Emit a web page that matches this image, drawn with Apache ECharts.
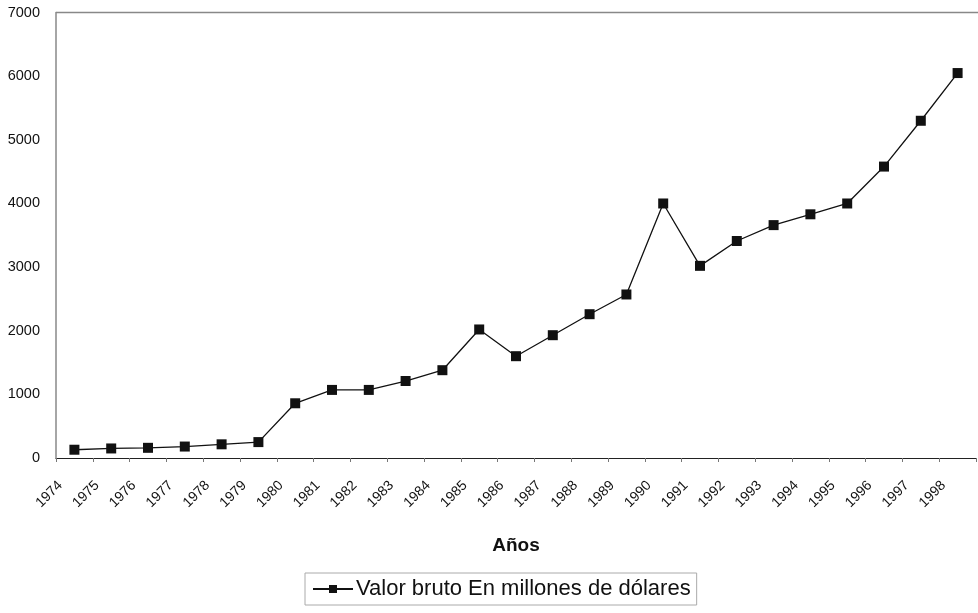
<!DOCTYPE html>
<html><head><meta charset="utf-8">
<script src="https://cdn.jsdelivr.net/npm/echarts@6/dist/echarts.min.js"></script>
<style>html,body{margin:0;padding:0;background:#fff}#c{width:978px;height:613px}</style>
</head><body><div id="c"></div>
<script>
const years = ['1974','1975','1976','1977','1978','1979','1980','1981','1982','1983','1984','1985','1986','1987','1988','1989','1990','1991','1992','1993','1994','1995','1996','1997','1998'];
const valorBruto = [130,150,160,180,215,250,860,1070,1070,1210,1380,2020,1600,1930,2260,2570,4000,3020,3410,3660,3830,4000,4580,5300,6050];
const yTicks = [0,1000,2000,3000,4000,5000,6000,7000];
const seriesName = 'Valor bruto En millones de dólares';
const xTitle = 'Años';

const chart = echarts.init(document.getElementById('c'));
chart.setOption({
  animation: false,
  backgroundColor: '#fff',
  grid: { left: 56, right: 2, top: 12.6, bottom: 155 },
  graphic: [{ type: 'line', shape: { x1: 56, y1: 12.5, x2: 978, y2: 12.5 }, style: { stroke: '#888', lineWidth: 1.5 } }],
  xAxis: {
    type: 'category', data: years, boundaryGap: true,
    name: xTitle, nameLocation: 'middle', nameGap: 78,
    nameTextStyle: { fontFamily: 'Liberation Sans', fontSize: 19, fontWeight: 'bold', color: '#111' },
    axisLine: { lineStyle: { color: '#222', width: 1 } },
    axisTick: { show: true, length: 4, lineStyle: { color: '#777' } },
    axisLabel: { rotate: 45, interval: 0, margin: 11, fontFamily: 'Liberation Sans', fontSize: 14, color: '#111',
      formatter: v => '{t|' + v + '}{s|}',
      rich: { t: { fontFamily: 'Liberation Sans', fontSize: 14, color: '#111' }, s: { width: 20 } } }
  },
  yAxis: {
    type: 'value', min: 0, max: 7000, interval: 1000,
    axisLine: { show: true, lineStyle: { color: '#888', width: 1.5 } },
    axisTick: { show: false },
    splitLine: { show: false },
    axisLabel: { margin: 16, fontFamily: 'Liberation Sans', fontSize: 14.5, color: '#111',
      formatter: v => yTicks.includes(v) ? String(v) : '' }
  },
  legend: {
    data: [seriesName], left: 305, top: 573,
    padding: [5, 6, 5, 7],
    borderColor: '#aaa', borderWidth: 1, borderRadius: 0,
    itemWidth: 40, itemHeight: 10, itemGap: 5,
    textStyle: { fontFamily: 'Liberation Sans', fontSize: 22, color: '#111', padding: [0, 0, 0, -2] }
  },
  series: [{
    name: seriesName, type: 'line', data: valorBruto,
    symbol: 'rect', symbolSize: 10,
    lineStyle: { color: '#111', width: 1.3 },
    itemStyle: { color: '#111' }
  }]
});
</script></body></html>
